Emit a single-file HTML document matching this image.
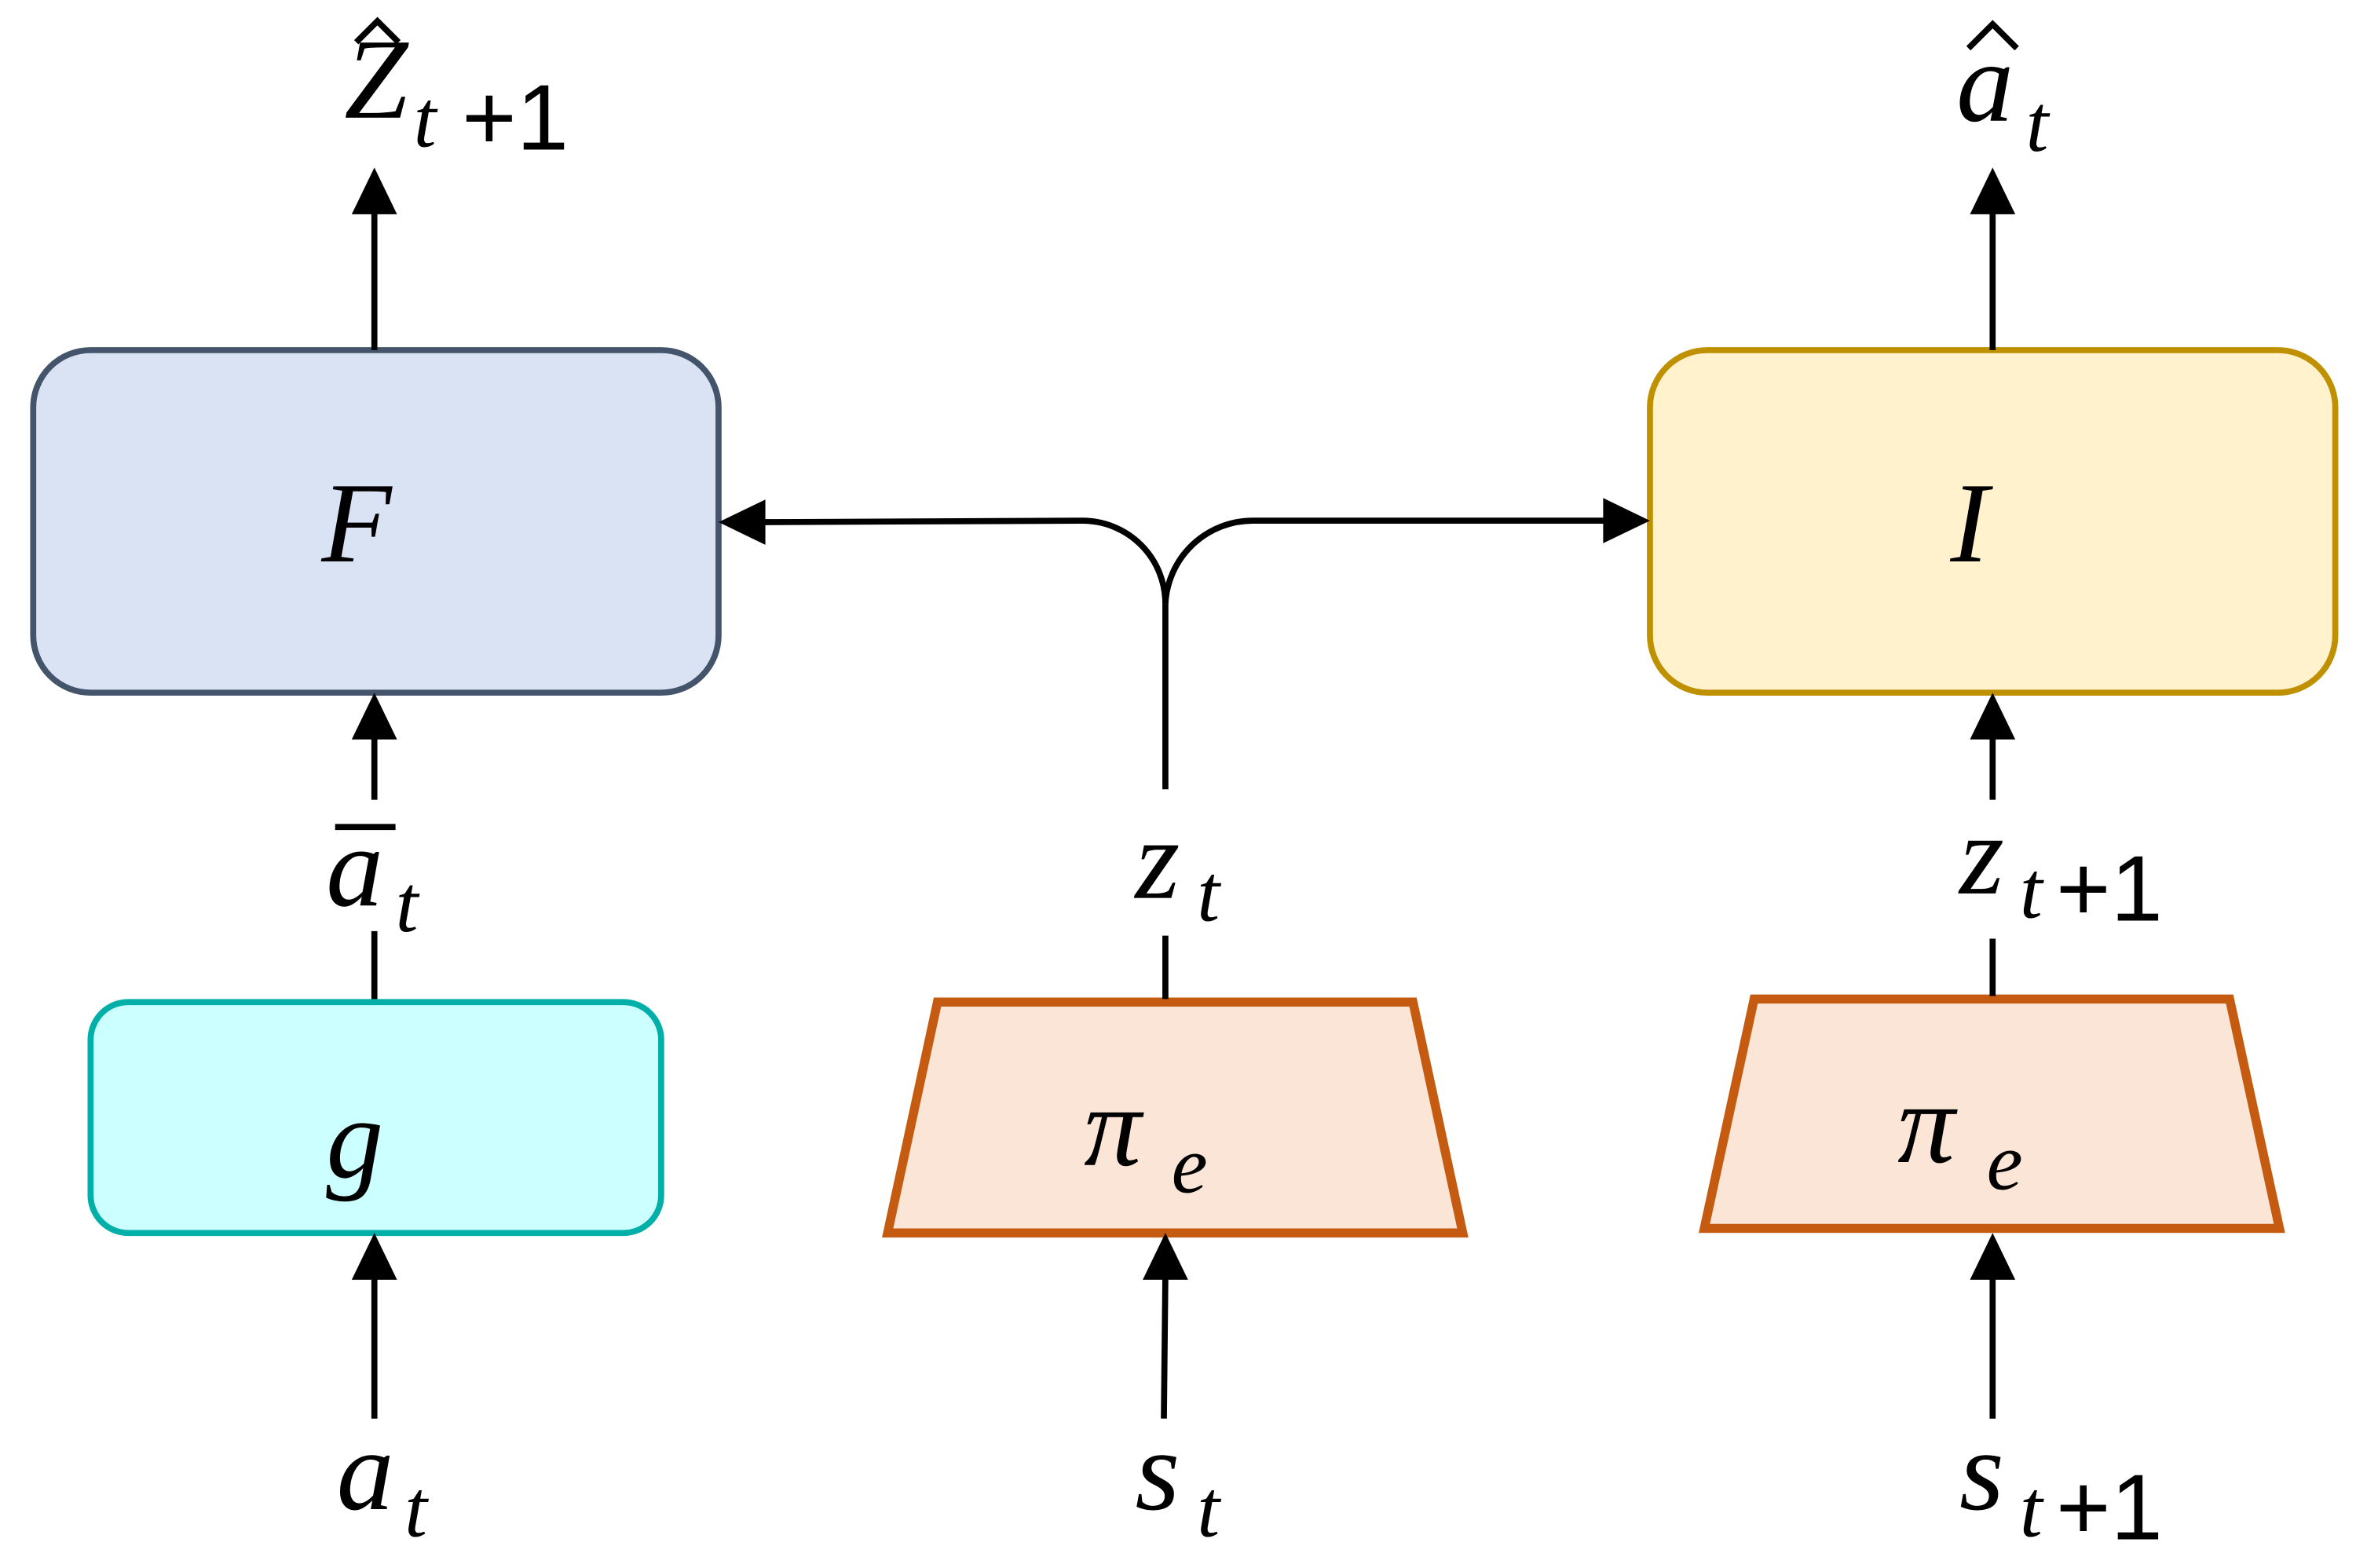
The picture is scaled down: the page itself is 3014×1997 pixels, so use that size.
<!DOCTYPE html>
<html><head><meta charset="utf-8"><style>
html,body{margin:0;padding:0;background:#fff;}
svg{display:block;}
text{font-family:"Liberation Serif","DejaVu Serif",serif;font-style:italic;fill:#000;}
.s{font-style:normal;font-family:"Liberation Sans",sans-serif;}
</style></head><body>
<svg width="3014" height="1997" viewBox="0 0 1568 1039" preserveAspectRatio="none" xmlns="http://www.w3.org/2000/svg">
<!-- boxes -->
<rect x="22" y="232" width="454" height="227" rx="38" fill="#dae3f3" stroke="#44546a" stroke-width="4"/>
<rect x="1093" y="232" width="454" height="227" rx="38" fill="#fff2cc" stroke="#bf9000" stroke-width="4"/>
<rect x="60" y="664" width="378" height="153" rx="25" fill="#ccffff" stroke="#00b0a8" stroke-width="4"/>
<polygon points="621,664 936,664 969,817 588,817" fill="#fbe5d6" stroke="#c55a11" stroke-width="6"/>
<polygon points="1162,662 1477,662 1510,814 1129,814" fill="#fbe5d6" stroke="#c55a11" stroke-width="6"/>
<g stroke="#000" stroke-width="4" fill="none">
<line x1="248" y1="940" x2="248" y2="845"/>
<line x1="248" y1="617" x2="248" y2="662"/>
<line x1="248" y1="530" x2="248" y2="488"/>
<line x1="248" y1="232" x2="248" y2="140"/>
<line x1="771" y1="940" x2="772" y2="845"/>
<line x1="772" y1="620" x2="772" y2="662"/>
<line x1="772" y1="523" x2="772" y2="400"/>
<path d="M772,400 A55,55 0 0 0 717,345 L505,346"/>
<path d="M772,400 A58,58 0 0 1 830,345 L1063,345"/>
<line x1="1320" y1="940" x2="1320" y2="845"/>
<line x1="1320" y1="622" x2="1320" y2="660"/>
<line x1="1320" y1="530" x2="1320" y2="488"/>
<line x1="1320" y1="232" x2="1320" y2="140"/>
</g>
<g fill="#000">
<polygon points="248,817 233,848 263,848"/>
<polygon points="248,459 233,490 263,490"/>
<polygon points="248,111 233,142 263,142"/>
<polygon points="772,817 757,848 787,848"/>
<polygon points="1320,817 1305,848 1335,848"/>
<polygon points="1320,459 1305,490 1335,490"/>
<polygon points="1320,111 1305,142 1335,142"/>
<polygon points="476,346 507,331 507,361"/>
<polygon points="1093,345 1062,330 1062,360"/>
</g>
<text x="213" y="372" font-size="76">F</text>
<text x="1292" y="372" font-size="76">I</text>
<text x="216" y="780" font-size="76">g</text>
<text x="718" y="772" font-size="76">π</text><text x="776" y="790" font-size="54">e</text>
<text x="1257" y="770" font-size="76">π</text><text x="1316" y="788" font-size="54">e</text>
<text x="223" y="1000" font-size="76">a</text><text x="268" y="1018" font-size="54">t</text>
<text x="752" y="1000" font-size="76">s</text><text x="793" y="1018" font-size="54">t</text>
<text x="1298" y="1000" font-size="76">s</text><text x="1338" y="1018" font-size="54">t</text><text class="s" x="1362" y="1020" font-size="62">+1</text>
<text x="216" y="600" font-size="76">a</text><text x="262" y="617" font-size="54">t</text>
<line x1="222" y1="548" x2="262" y2="548" stroke="#000" stroke-width="4"/>
<text x="752" y="595" font-size="76">z</text><text x="793" y="610" font-size="54">t</text>
<text x="1298" y="592" font-size="76">z</text><text x="1338" y="608" font-size="54">t</text><text class="s" x="1362" y="610" font-size="62">+1</text>
<text x="228" y="78" font-size="76">Z</text><text x="274" y="97" font-size="54">t</text><text class="s" x="306" y="99" font-size="62">+1</text>
<path d="M236,28 L250,14 L264,28" stroke="#000" stroke-width="4" fill="none"/>
<text x="1296" y="80" font-size="76">a</text><text x="1342" y="100" font-size="54">t</text>
<path d="M1304,32 L1320,16 L1336,32" stroke="#000" stroke-width="4" fill="none"/>
</svg>
</body></html>
